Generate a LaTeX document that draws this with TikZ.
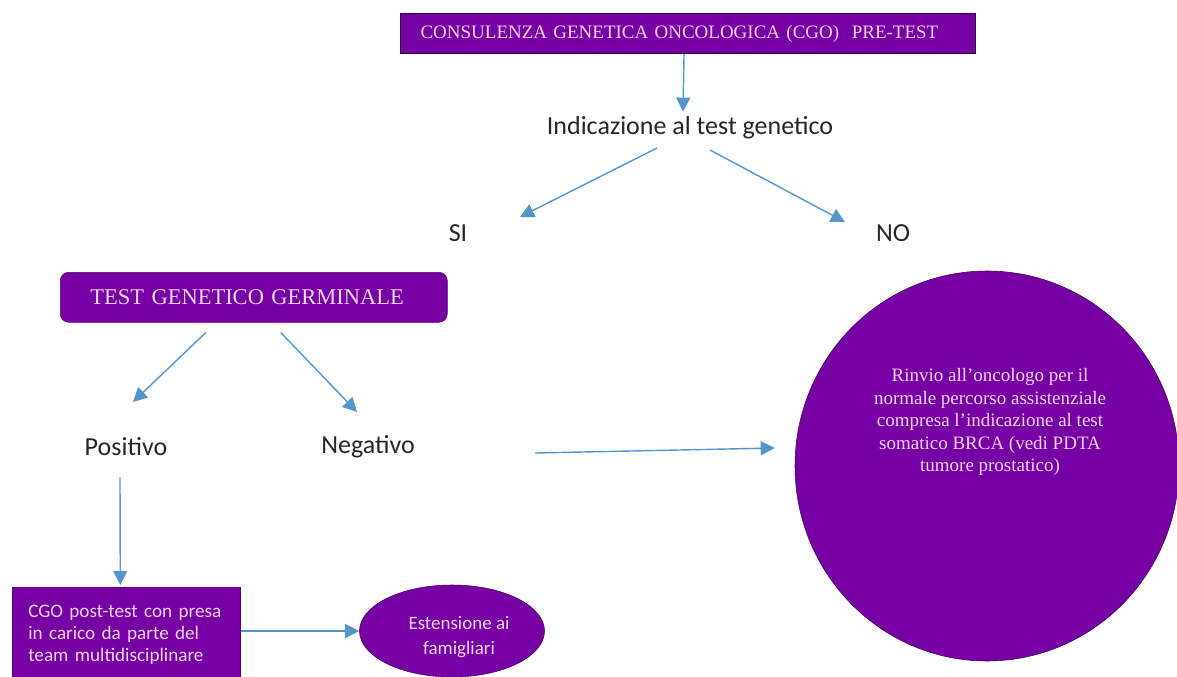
\documentclass[tikz,border=0pt]{standalone}
\usepackage{fontspec}
\setmainfont{Liberation Serif}
\newfontfamily\carlito{Carlito}
\usetikzlibrary{arrows.meta,shapes.geometric,calc}

\definecolor{viola}{RGB}{118,0,163}
\definecolor{violabordo}{RGB}{45,0,70}
\definecolor{rosa}{RGB}{244,212,246}
\definecolor{freccia}{RGB}{84,150,204}

\tikzset{
  scatola/.style={fill=viola, text=rosa, inner ysep=0pt},
  arr/.style={freccia, line width=1pt, -{Triangle[length=10pt,width=10pt]}},
  voce/.style={font=\carlito\fontsize{18.5}{22}\selectfont, text=black!85, inner sep=2pt},
}

\begin{document}
\begin{tikzpicture}[x=0.025cm, y=-0.025cm]

  \def\u{0.025cm}
  \useasboundingbox (0,0) rectangle (1177,677);

	%boxes
  \node[scatola, draw=violabordo, line width=0.8pt, anchor=north west, minimum height=40*\u,
        text width=535*\u, inner xsep=20*\u, align=left,
        font=\fontsize{13.5}{15}\selectfont] (pre) at (400,13)
        {CONSULENZA GENETICA ONCOLOGICA (CGO)\ \ PRE-TEST};

  \node[scatola, draw=viola!70!black, rounded corners=6pt, anchor=north west, minimum height=50*\u,
        text width=327*\u, inner xsep=30*\u, align=left,
        font=\fontsize{16}{18}\selectfont] (germ) at (60,272)
        {TEST GENETICO GERMINALE};

  \node[scatola, draw=viola!80!black, anchor=north west, minimum height=95*\u,
        text width=196*\u, inner xsep=16*\u, align=left,
        font=\carlito\fontsize{13.6}{15.6}\selectfont] (post) at (12,587)
        {CGO post-test con presa\\in carico da parte del\\team multidisciplinare};

	%ellipses
  \node[scatola, ellipse, draw=viola!60!black, inner sep=0pt,
        minimum width=384*\u, minimum height=390*\u] (rinvio) at (987,466) {};
  \node[text=rosa, align=center, font=\fontsize{13.5}{16}\selectfont] (rinviotxt) at (990,422)
        {Rinvio all'oncologo per il\\normale percorso assistenziale\\compresa l'indicazione al test\\somatico BRCA (vedi PDTA\\tumore prostatico)};

  \node[scatola, ellipse, draw=viola!60!black, inner sep=0pt,
        minimum width=185*\u, minimum height=92*\u] (fam) at (452,631) {};
  \node[text=rosa, align=center, font=\carlito\fontsize{13.5}{18}\selectfont] (famtxt) at (459,637)
        {Estensione ai\\famigliari};

	%labels
  \node[voce] (ind) at (690,128) {Indicazione al test genetico};
  \node[voce] (si) at (458,233) {SI};
  \node[voce] (no) at (893,233) {NO};
  \node[voce] (pos) at (126,447) {Positivo};
  \node[voce] (neg) at (368,447) {Negativo};

	%arrows
  \draw[arr] ($(pre.south)+(-4,0)$) -- ($(ind.north)+(-7,-2)$);
  \draw[arr] ($(ind)+(-33,20)$) -- ($(si)+(62,-16)$);
  \draw[arr] ($(ind)+(20,22)$) -- ($(no)+(-48,-11)$);

  \draw[arr] ($(germ.south)+(-48,10)$) -- ($(pos)+(7,-45)$);
  \draw[arr] ($(germ.south)+(27,10)$) -- ($(neg)+(-11,-35)$);

  \draw[arr] ($(neg)+(167,6)$) -- ($(rinvio.west)+(-20,-18)$);
  \draw[arr] ($(pos)+(-6,30)$) -- ($(post.north)+(-6,-2)$);
  \draw[arr] (post.east |- fam.west) -- (fam.west);

\end{tikzpicture}
\end{document}
